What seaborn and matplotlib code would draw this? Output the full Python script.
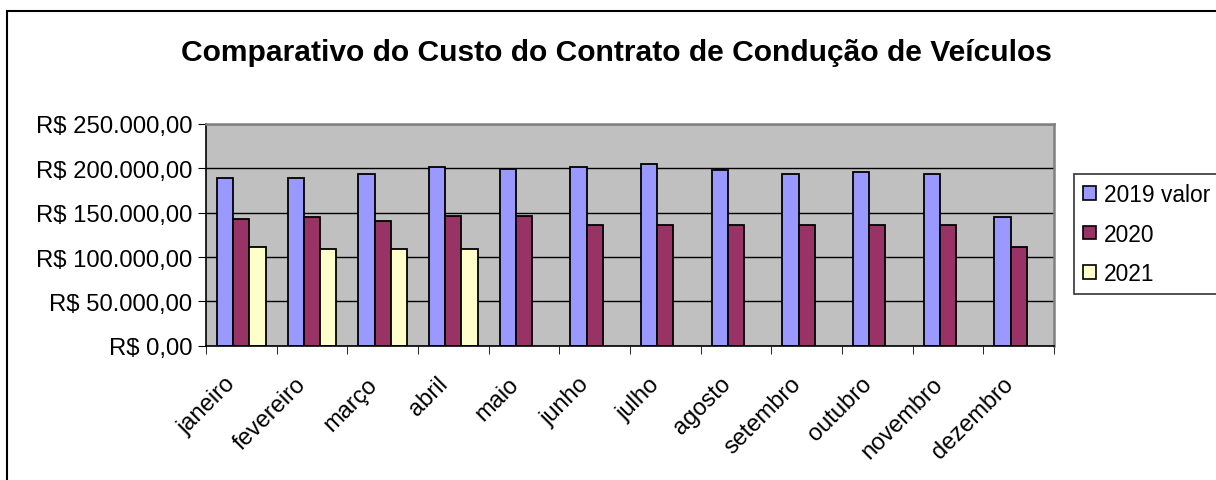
import matplotlib
matplotlib.use('Agg')
import matplotlib.pyplot as plt
from matplotlib.patches import Rectangle, Patch
from matplotlib.ticker import FuncFormatter, FixedLocator
from matplotlib.transforms import ScaledTranslation
import seaborn as sns
import pandas as pd
import numpy as np

# Data
meses = ['janeiro', 'fevereiro', 'março', 'abril', 'maio', 'junho',
         'julho', 'agosto', 'setembro', 'outubro', 'novembro', 'dezembro']
valores_2019 = [189300, 189300, 193800, 201800, 199800, 201800,
                204400, 197600, 193800, 195700, 193800, 144800]
valores_2020 = [142500, 144800, 140200, 146700, 146700, 136100,
                136100, 136100, 136100, 136100, 136100, 110800]
valores_2021 = [110800, 108600, 108600, 108600, np.nan, np.nan,
                np.nan, np.nan, np.nan, np.nan, np.nan, np.nan]
series = ['2019 valor', '2020', '2021']
cores = ['#9999FF', '#993366', '#FFFFCC']

df = pd.DataFrame({
    'mes': meses * 3,
    'serie': [series[0]] * 12 + [series[1]] * 12 + [series[2]] * 12,
    'valor': valores_2019 + valores_2020 + valores_2021,
})

sns.set_style('white')
plt.rcParams['font.family'] = ['Liberation Sans', 'DejaVu Sans']
plt.rcParams['text.color'] = 'black'
plt.rcParams['xtick.color'] = 'black'
plt.rcParams['ytick.color'] = 'black'

fig = plt.figure(figsize=(12.16, 4.81), dpi=100)
ax = fig.add_axes([206 / 1216, 1 - 346.7 / 481, (1054 - 206) / 1216, (346.7 - 125) / 481])

sns.barplot(data=df, x='mes', y='valor', hue='serie', hue_order=series,
            palette=cores, order=meses, width=0.69, gap=0, errorbar=None,
            edgecolor='black', linewidth=1.3, saturation=1, legend=False, ax=ax)

ax.set_facecolor('#C0C0C0')
ax.set_xlim(-0.5, 11.5)
ax.set_ylim(0, 250000)
ax.set_yticks(range(0, 250001, 50000))
ax.yaxis.set_major_formatter(FuncFormatter(
    lambda v, p: 'R$ ' + format(v, ',.2f').replace(',', 'X').replace('.', ',').replace('X', '.')))
ax.grid(axis='y', color='black', linewidth=1)
ax.set_axisbelow(True)
ax.set_xlabel('')
ax.set_ylabel('')

# tick marks between the months
ax.xaxis.set_minor_locator(FixedLocator(np.arange(-0.5, 12, 1)))
ax.tick_params(axis='x', which='major', length=0, pad=25, labelsize=17, labelcolor='black')
ax.tick_params(axis='x', which='minor', length=6, color='black', direction='out', bottom=True)
ax.tick_params(axis='y', length=6, color='black', direction='out', left=True, labelsize=17.2,
               pad=4, labelcolor='black')
shift = ScaledTranslation(-0.09, 0, fig.dpi_scale_trans)
for lab in ax.get_xticklabels():
    lab.set_rotation(45)
    lab.set_ha('right')
    lab.set_rotation_mode('anchor')
    lab.set_va('center')
    lab.set_transform(lab.get_transform() + shift)

for s in ['left', 'bottom']:
    ax.spines[s].set_color('black')
    ax.spines[s].set_linewidth(1.2)
for s in ['top', 'right']:
    ax.spines[s].set_color('#808080')
    ax.spines[s].set_linewidth(1.8)

fig.text(0.507, 1 - 53 / 481, 'Comparativo do Custo do Contrato de Condução de Veículos',
         ha='center', va='center', fontsize=21.6, fontweight='bold', color='black')

handles = [Patch(facecolor=c, edgecolor='black', linewidth=1.2) for c in cores]
leg = fig.legend(handles, series, loc='upper left', bbox_to_anchor=(1074 / 1216, 1 - 175 / 481),
                 frameon=True, fancybox=False, fontsize=16.4, handlelength=0.55, handleheight=0.55,
                 handletextpad=0.35, labelspacing=0.72, borderpad=0.4, borderaxespad=0)
leg.get_frame().set_edgecolor('black')
leg.get_frame().set_linewidth(1.2)
for t in leg.get_texts():
    t.set_color('black')

# outer chart border
fig.patches.append(Rectangle((7 / 1216, -0.1), 1.2, 1 - 12 / 481 + 0.1, transform=fig.transFigure,
                             fill=False, edgecolor='black', linewidth=1.5, clip_on=False))

fig.savefig('out.png', dpi=100)
